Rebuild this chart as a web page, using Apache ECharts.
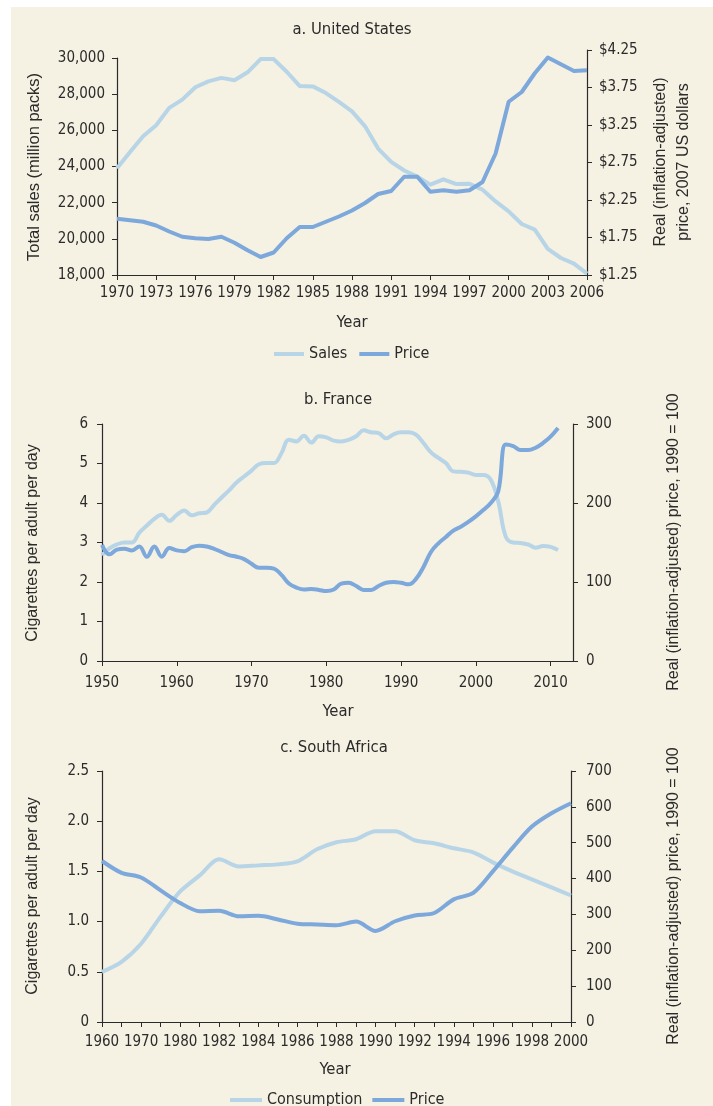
<!DOCTYPE html>
<html>
<head>
<meta charset="utf-8">
<style>
html, body { margin: 0; padding: 0; background: #fff; }
#main { width: 713px; height: 1106px; }
</style>
<script src="https://cdn.jsdelivr.net/npm/echarts@6/dist/echarts.min.js"></script>
</head>
<body>
<div id="main"></div>
<script>
// a. United States
var usYears = ['1970','1971','1972','1973','1974','1975','1976','1977','1978','1979',
  '1980','1981','1982','1983','1984','1985','1986','1987','1988','1989',
  '1990','1991','1992','1993','1994','1995','1996','1997','1998','1999',
  '2000','2001','2002','2003','2004','2005','2006'];
var usSales = [23900, 24800, 25670, 26280, 27240, 27700, 28380, 28710, 28900, 28770,
  29210, 29940, 29940, 29240, 28450, 28430, 28060, 27570, 27050, 26220,
  24990, 24260, 23780, 23440, 23000, 23290, 23030, 23040, 22720, 22070,
  21520, 20820, 20510, 19440, 18940, 18630, 18080];
var usPrice = [2.00, 1.98, 1.96, 1.91, 1.83, 1.76, 1.74, 1.73, 1.76, 1.68,
  1.58, 1.49, 1.55, 1.74, 1.89, 1.89, 1.96, 2.03, 2.11, 2.21,
  2.33, 2.37, 2.56, 2.56, 2.36, 2.38, 2.36, 2.38, 2.49, 2.87,
  3.56, 3.69, 3.94, 4.15, 4.06, 3.97, 3.98];

// b. France
var frYears = ['1950','1951','1952','1953','1954','1955','1956','1957','1958','1959',
  '1960','1961','1962','1963','1964','1965','1966','1967','1968','1969',
  '1970','1971','1972','1973','1974','1975','1976','1977','1978','1979',
  '1980','1981','1982','1983','1984','1985','1986','1987','1988','1989',
  '1990','1991','1992','1993','1994','1995','1996','1997','1998','1999',
  '2000','2001','2002','2003','2004','2005','2006','2007','2008','2009',
  '2010','2011','2012','2013'];
var frCons = [2.68, 2.85, 2.95, 3.00, 3.00, 3.25, 3.43, 3.60, 3.70, 3.55,
  3.70, 3.81, 3.69, 3.74, 3.76, 3.95, 4.14, 4.32, 4.52, 4.67,
  4.82, 4.98, 5.01, 5.01, 5.26, 5.60, 5.56, 5.70, 5.53, 5.69,
  5.66, 5.58, 5.56, 5.60, 5.69, 5.84, 5.79, 5.77, 5.64, 5.74,
  5.79, 5.79, 5.73, 5.52, 5.28, 5.14, 5.01, 4.80, 4.79, 4.77,
  4.71, 4.71, 4.59, 4.04, 3.15, 3.00, 2.99, 2.95, 2.87, 2.91,
  2.89, 2.81];
var frPrice = [147, 135, 141, 142, 140, 145, 132, 145, 132, 143,
  140, 139, 144, 146, 145, 142, 138, 134, 132, 129,
  123, 118, 118, 117, 109, 98, 93, 90.5, 91, 90,
  88.5, 90.5, 98, 99, 95, 90, 90, 95, 99, 100,
  99, 97, 104, 119, 138, 149, 157, 165, 170, 176,
  183, 191, 200, 215, 274, 272, 267, 267, 270, 276,
  284, 295];

// c. South Africa
var saYears = ['1960','1965','1970','1975','1980','1981','1982','1983','1984','1985',
  '1986','1987','1988','1989','1990','1991','1992','1993','1994','1995',
  '1996','1997','1998','1999','2000'];
var saCons = [0.50, 0.60, 0.78, 1.05, 1.30, 1.46, 1.62, 1.55, 1.56, 1.57,
  1.60, 1.72, 1.79, 1.82, 1.90, 1.90, 1.81, 1.78, 1.73, 1.69,
  1.59, 1.50, 1.42, 1.34, 1.26];
var saPrice = [449, 416, 403, 367, 332, 309, 310, 295, 296, 286,
  274, 272, 270, 280, 254, 281, 297, 304, 342, 360,
  420, 485, 545, 582, 610];

var LIGHT = '#b8d5e7';
var DARK = '#7da8db';
var INK = '#2b2b2b';
var NARROW = '"DejaVu Sans Condensed", "Liberation Sans Narrow", sans-serif';
var SANS = '"Liberation Sans", Arial, sans-serif';
var TICK = 15;

var chart = echarts.init(document.getElementById('main'));

function yAx(grid, pos, min, max, step, margin, fmt) {
  return {
    type: 'value', gridIndex: grid, position: pos,
    min: min, max: max, interval: step,
    axisLine: { show: true, lineStyle: { color: INK, width: 1.2 } },
    axisTick: { show: true, length: 5, lineStyle: { color: INK } },
    axisLabel: { color: INK, fontFamily: NARROW, fontSize: TICK, margin: margin, formatter: fmt },
    splitLine: { show: false }
  };
}

function xAx(grid, cats, every, tickEvery, margin, hidden) {
  return {
    type: 'category', gridIndex: grid, data: cats, boundaryGap: false, show: !hidden,
    axisLine: { show: true, lineStyle: { color: INK, width: 1.2 } },
    axisTick: { show: true, length: 5, interval: tickEvery, lineStyle: { color: INK } },
    axisLabel: { color: INK, fontFamily: NARROW, fontSize: TICK, margin: margin, interval: every },
    splitLine: { show: false }
  };
}

function line(name, x, y, data, color, smooth, z) {
  return {
    name: name, type: 'line', xAxisIndex: x, yAxisIndex: y, data: data,
    color: color, symbol: 'none', smooth: smooth, z: z,
    lineStyle: { color: color, width: 4, join: 'round' }
  };
}

function label(txt, x, y, size, font, rot, lh) {
  return {
    type: 'text', x: x, y: y, rotation: rot || 0, silent: true,
    style: {
      text: txt, fill: INK, fontSize: size, fontFamily: font, lineHeight: lh || size + 2,
      align: 'center', verticalAlign: 'middle', textAlign: 'center', textVerticalAlign: 'middle'
    }
  };
}

var R = Math.PI / 2;

option = {
  animation: false,
  graphic: [
    { type: 'rect', shape: { x: 11, y: 7, width: 702, height: 1099 }, style: { fill: '#f5f1e3' }, z: -10, silent: true },
    label('a. United States', 352, 30, 16.5, NARROW),
    label('Year', 352, 323, 16.5, NARROW),
    label('Total sales (million packs)', 34, 167, 16.5, SANS, R),
    label('Real (inflation-adjusted)\nprice, 2007 US dollars', 672, 162, 16, SANS, R, 23),
    label('b. France', 338, 400, 16.5, NARROW),
    label('Year', 338, 712, 16.5, NARROW),
    label('Cigarettes per adult per day', 33, 543, 16, SANS, R),
    label('Real (inflation-adjusted) price, 1990 = 100', 674, 542, 16, SANS, R),
    label('c. South Africa', 334, 748, 16.5, NARROW),
    label('Year', 335, 1070, 16.5, NARROW),
    label('Cigarettes per adult per day', 33, 896, 16, SANS, R),
    label('Real (inflation-adjusted) price, 1990 = 100', 674, 896, 16, SANS, R)
  ],
  legend: [
    { data: ['Sales', 'Price'], left: 269, top: 341, icon: 'rect', itemWidth: 30, itemHeight: 4, itemGap: 12,
      selectedMode: false, textStyle: { fontFamily: NARROW, fontSize: 16, color: INK } },
    { data: ['Consumption', 'Price'], left: 225, top: 1087, icon: 'rect', itemWidth: 32, itemHeight: 4, itemGap: 10,
      selectedMode: false, textStyle: { fontFamily: NARROW, fontSize: 16, color: INK } }
  ],
  grid: [
    { left: 117, top: 58, width: 470, height: 217 },
    { left: 117, top: 50, width: 470, height: 225 },
    { left: 102, top: 424, width: 471, height: 237 },
    { left: 102, top: 771, width: 469, height: 251 }
  ],
  xAxis: [
    xAx(0, usYears, 2, 2, 11),
    xAx(1, usYears, 2, 2, 11, true),
    xAx(2, frYears, 9, 9, 15),
    xAx(3, saYears, 1, 0, 13)
  ],
  yAxis: [
    yAx(0, 'left', 18000, 30000, 2000, 12, function (v) { return v.toLocaleString('en-US'); }),
    yAx(1, 'right', 1.25, 4.25, 0.5, 12, function (v) { return '$' + v.toFixed(2); }),
    yAx(2, 'left', 0, 6, 1, 14, function (v) { return String(v); }),
    yAx(2, 'right', 0, 300, 100, 13, function (v) { return String(v); }),
    yAx(3, 'left', 0, 2.5, 0.5, 13, function (v) { return v === 0 ? '0' : v.toFixed(1); }),
    yAx(3, 'right', 0, 700, 100, 15, function (v) { return String(v); })
  ],
  series: [
    line('Sales', 0, 0, usSales, LIGHT, false, 2),
    line('Price', 1, 1, usPrice, DARK, false, 3),
    line('Consumption', 2, 2, frCons, LIGHT, 0.4, 2),
    line('Price', 2, 3, frPrice, DARK, 0.4, 3),
    line('Consumption', 3, 4, saCons, LIGHT, 0.3, 2),
    line('Price', 3, 5, saPrice, DARK, 0.3, 3)
  ]
};

chart.setOption(option);

window.onresize = function () {
  chart.resize();
};
</script>
</body>
</html>
